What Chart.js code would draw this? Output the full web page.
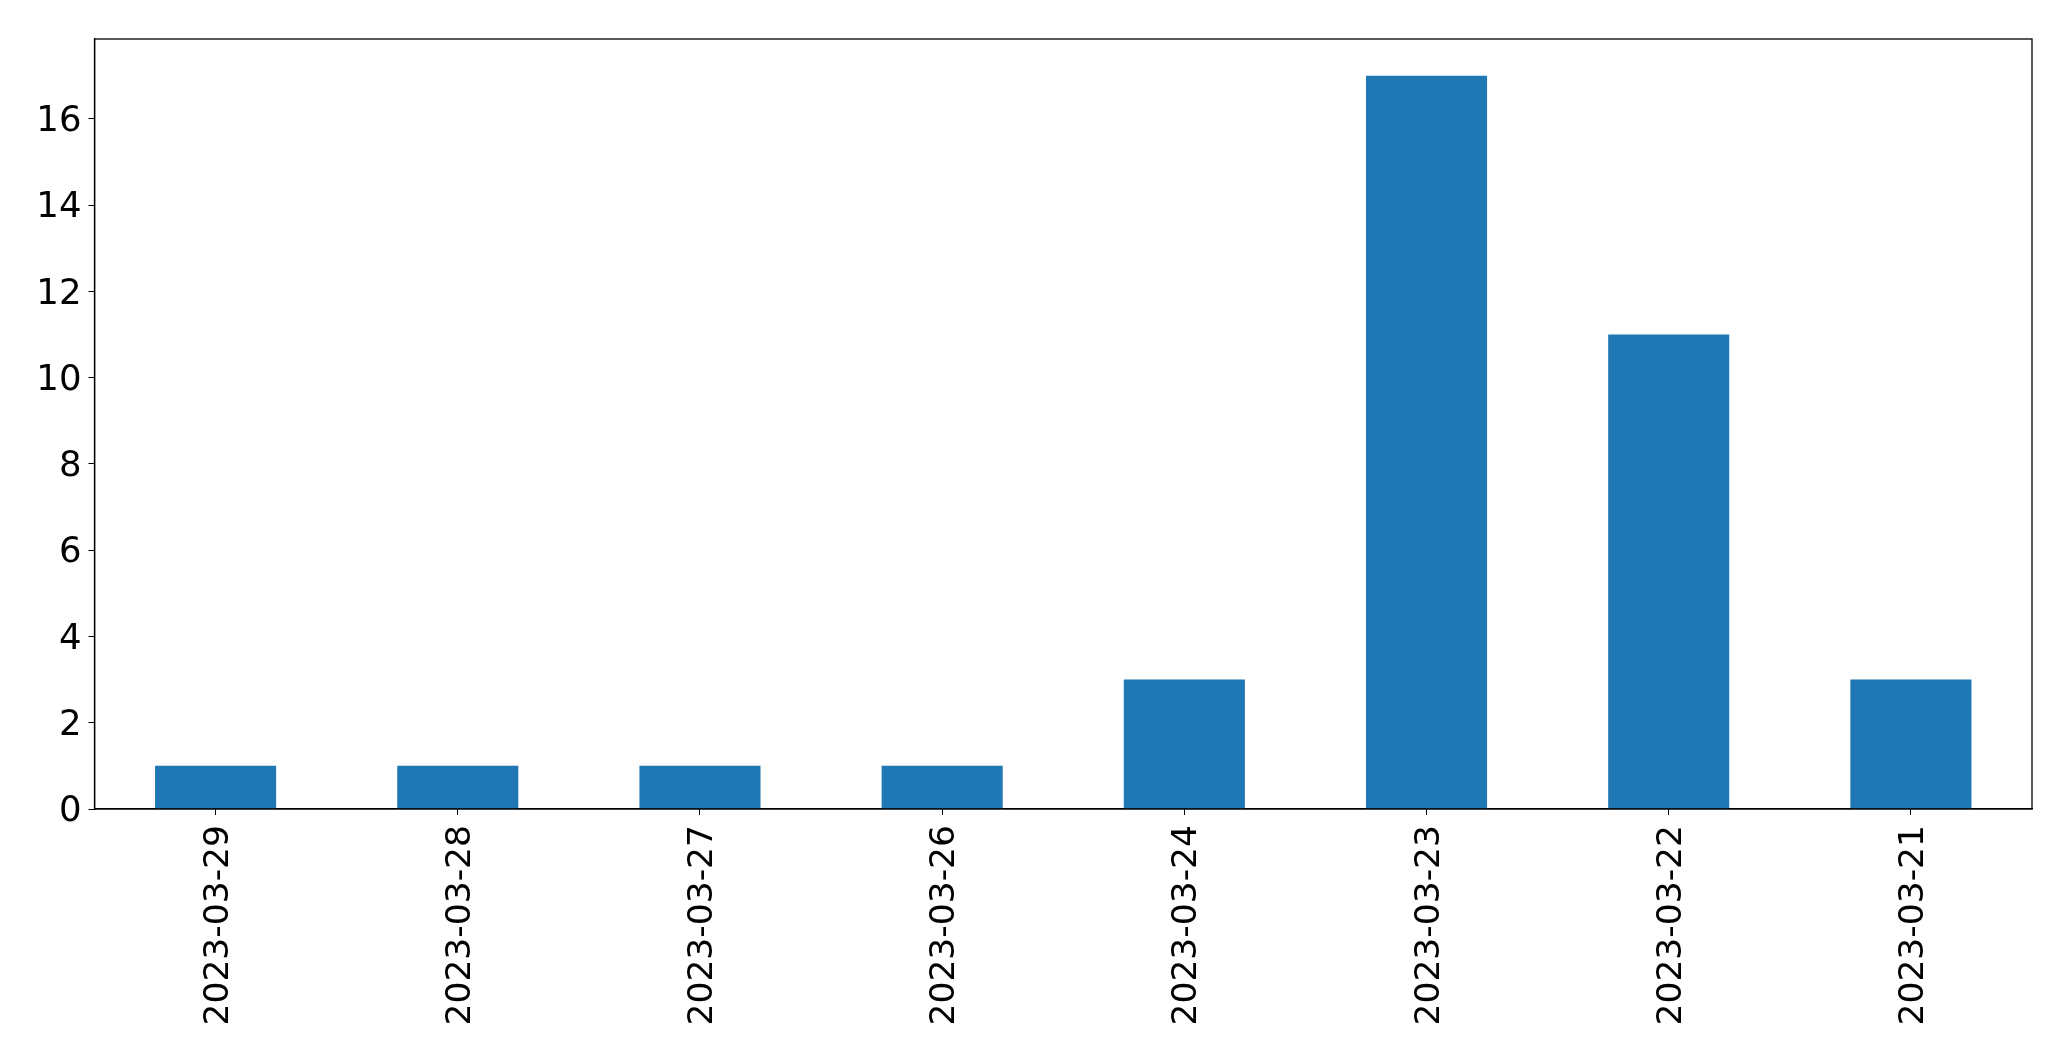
<!DOCTYPE html>
<html>
<head>
<meta charset="utf-8">
<script src="https://cdn.jsdelivr.net/npm/chart.js@4/dist/chart.umd.min.js"></script>
<style>
  html, body { margin: 0; padding: 0; background: #fff; }
  #wrap { width: 2071px; height: 1061px; }
</style>
</head>
<body>
<div id="wrap"><canvas id="c" width="2071" height="1061"></canvas></div>
<script>
const categories = ["2023-03-29", "2023-03-28", "2023-03-27", "2023-03-26", "2023-03-24", "2023-03-23", "2023-03-22", "2023-03-21"];
const counts = [1, 1, 1, 1, 3, 17, 11, 3];
const yTicks = [0, 2, 4, 6, 8, 10, 12, 14, 16];
const yMax = 17.85;

const frame = {
  id: 'frame',
  afterDraw(chart) {
    const a = chart.chartArea, ctx = chart.ctx;
    ctx.save();
    ctx.strokeStyle = '#000';
    ctx.lineWidth = 1.3;
    ctx.strokeRect(a.left, a.top, a.right - a.left, a.bottom - a.top);
    ctx.restore();
  }
};

new Chart(document.getElementById('c'), {
  type: 'bar',
  data: {
    labels: categories,
    datasets: [{ data: counts, backgroundColor: '#1f77b4', barPercentage: 0.5, categoryPercentage: 1.0 }]
  },
  options: {
    responsive: false,
    animation: false,
    layout: { padding: { top: 39, right: 39, left: 0, bottom: 0 } },
    plugins: { legend: { display: false }, tooltip: { enabled: false } },
    scales: {
      x: {
        grid: { display: true, offset: false, drawOnChartArea: false, drawTicks: true, tickLength: 6, tickColor: '#000' },
        border: { display: true, color: '#000', width: 1.3 },
        ticks: { color: '#000', font: { family: 'DejaVu Sans', size: 34.5 }, minRotation: 90, maxRotation: 90, padding: 10, labelOffset: 3, autoSkip: false },
        afterFit(s) { s.height = 252; }
      },
      y: {
        min: 0, max: yMax,
        grid: { display: true, drawOnChartArea: false, drawTicks: true, tickLength: 6, tickColor: '#000' },
        border: { display: true, color: '#000', width: 1.3 },
        ticks: { color: '#000', font: { family: 'DejaVu Sans', size: 35.5 }, padding: 7, labelOffset: 3 },
        afterBuildTicks(s) { s.ticks = yTicks.map(v => ({ value: v })); },
        afterFit(s) { s.width = 94.5; }
      }
    }
  },
  plugins: [frame]
});
</script>
</body>
</html>
